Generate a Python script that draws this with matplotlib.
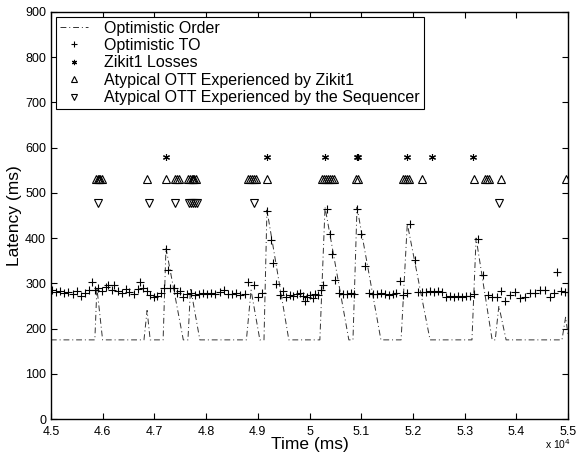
import matplotlib
matplotlib.use('Agg')
from matplotlib import pyplot as plt
from matplotlib.ticker import FuncFormatter

plt.rcParams['font.family'] = ['Liberation Sans', 'DejaVu Sans']

# Optimistic Order (dash-dot line)
order_t = [45000, 45850, 45890, 46000, 46800, 46860, 46920, 47170, 47225, 47560,
           47650, 47700, 47880, 48780, 48870, 49040, 49120, 49177, 49600, 50200,
           50300, 50760, 50840, 50918, 51380, 51770, 51890, 52330, 53140, 53220,
           53530, 53590, 53660, 53800, 54880, 54950, 55000]
order_v = [175, 175, 290, 175, 175, 240, 175, 175, 378, 175,
           175, 290, 175, 175, 285, 175, 175, 462, 175, 175,
           468, 175, 175, 468, 175, 175, 432, 175, 175, 400,
           175, 175, 250, 175, 175, 225, 185]

# Optimistic TO (+)
to_t = [45020, 45100, 45180, 45260, 45340, 45420, 45500, 45580, 45660, 45740,
        45800, 45860, 45920, 45990, 46060, 46100, 46180, 46220, 46300, 46380,
        46460, 46520, 46600, 46680, 46720, 46780, 46850, 46920, 47000, 47060,
        47120, 47180, 47225, 47262, 47300, 47380, 47440, 47500, 47553, 47630,
        47700, 47780, 47860, 47940, 48020, 48100, 48180, 48260, 48340, 48420,
        48500, 48580, 48660, 48752, 48810, 48926, 49003, 49081, 49177, 49255,
        49293, 49352, 49429, 49487, 49545, 49622, 49680, 49757, 49816, 49870,
        49912, 49960, 50009, 50060, 50106, 50164, 50222, 50260, 50338, 50396,
        50435, 50493, 50570, 50647, 50725, 50802, 50860, 50918, 50995, 51073,
        51150, 51227, 51305, 51382, 51460, 51537, 51614, 51672, 51750, 51808,
        51885, 51943, 52040, 52098, 52175, 52253, 52330, 52407, 52485, 52562,
        52640, 52717, 52794, 52872, 52949, 53026, 53104, 53181, 53258, 53355,
        53452, 53529, 53626, 53703, 53780, 53877, 53974, 54070, 54167, 54264,
        54360, 54457, 54554, 54651, 54728, 54786, 54863, 54941, 54999]
to_v = [285, 280, 283, 278, 280, 276, 282, 272, 278, 285,
        304, 286, 290, 282, 292, 297, 286, 296, 284, 279,
        288, 280, 276, 287, 304, 290, 282, 274, 270, 272,
        278, 290, 375, 330, 289, 290, 278, 283, 270, 276,
        278, 275, 277, 279, 276, 278, 277, 280, 285, 277,
        276, 278, 275, 277, 302, 297, 270, 278, 460, 395,
        345, 298, 275, 282, 270, 275, 273, 276, 278, 272,
        262, 270, 275, 268, 276, 275, 286, 297, 465, 408,
        364, 308, 278, 277, 276, 278, 277, 465, 410, 339,
        278, 277, 276, 278, 277, 275, 277, 278, 306, 275,
        278, 430, 352, 281, 281, 280, 282, 281, 282, 280,
        270, 271, 270, 272, 270, 271, 272, 277, 397, 319,
        275, 270, 270, 282, 262, 275, 280, 268, 270, 278,
        278, 285, 285, 270, 278, 324, 282, 280, 280]

# Zikit1 losses (*)
loss_t = [47224, 49178, 50299, 50918, 50937, 51885, 52369, 53162]
loss_v = [580, 580, 580, 580, 580, 580, 580, 580]

# Atypical OTT experienced by Zikit1 (up triangles)
zik_t = [45870, 45909, 45928, 45948, 45986, 46857, 47224, 47398, 47437, 47476,
         47650, 47688, 47727, 47746, 47766, 47804, 48810, 48849, 48887, 48926,
         48965, 49177, 50241, 50280, 50319, 50357, 50396, 50435, 50473, 50899,
         50937, 51808, 51847, 51885, 51924, 52175, 53181, 53394, 53432, 53471,
         53703, 54960]
zik_v = [530] * len(zik_t)

# Atypical OTT experienced by the sequencer (down triangles)
seq_t = [45909, 46895, 47398, 47669, 47708, 47746, 47785, 47824, 48926, 53664]
seq_v = [477] * len(seq_t)

x_ticks = [45000, 46000, 47000, 48000, 49000, 50000, 51000, 52000, 53000, 54000, 55000]
y_ticks = [0, 100, 200, 300, 400, 500, 600, 700, 800, 900]

fig = plt.figure(figsize=(5.78, 4.55), dpi=100)
ax = fig.add_axes([0.088, 0.079, 0.895, 0.895])

ax.plot(order_t, order_v, color='#333333', lw=0.7, dashes=(6, 3, 1, 3),
        label='Optimistic Order')
ax.plot(to_t, to_v, linestyle='none', marker='+', ms=6, mew=0.8, color='black',
        label='Optimistic TO')
ax.plot(loss_t, loss_v, linestyle='none', marker=(6, 2, 0), ms=5, mew=0.8,
        color='black', label='Zikit1 Losses')
ax.plot(zik_t, zik_v, linestyle='none', marker='^', ms=6, mew=0.8,
        mfc='none', mec='black', label='Atypical OTT Experienced by Zikit1')
ax.plot(seq_t, seq_v, linestyle='none', marker='v', ms=6, mew=0.8,
        mfc='none', mec='black', label='Atypical OTT Experienced by the Sequencer')

ax.set_xlim(45000, 55000)
ax.set_ylim(0, 900)
ax.set_xticks(x_ticks)
ax.set_yticks(y_ticks)
ax.xaxis.set_major_formatter(FuncFormatter(lambda v, p: '%g' % (v / 10000)))
ax.tick_params(direction='in', top=True, right=True, labelsize=9, length=4)
ax.tick_params(axis='x', pad=5)
for s in ax.spines.values():
    s.set_linewidth(1.0)

ax.set_xlabel('Time (ms)', fontsize=12.5, labelpad=-1)
ax.set_ylabel('Latency (ms)', fontsize=12.5, labelpad=2)
fig.text(0.988, 0.008, r'x 10$^4$', ha='right', va='bottom', fontsize=7.5)

leg = ax.legend(loc='upper left', fontsize=11.5, handlelength=1.8, handletextpad=1.0,
                borderaxespad=0.3, labelspacing=0.15, fancybox=False,
                edgecolor='black', framealpha=1, borderpad=0.25, markerscale=0.75)
leg.get_frame().set_linewidth(0.8)

fig.savefig('out.png', dpi=100)
